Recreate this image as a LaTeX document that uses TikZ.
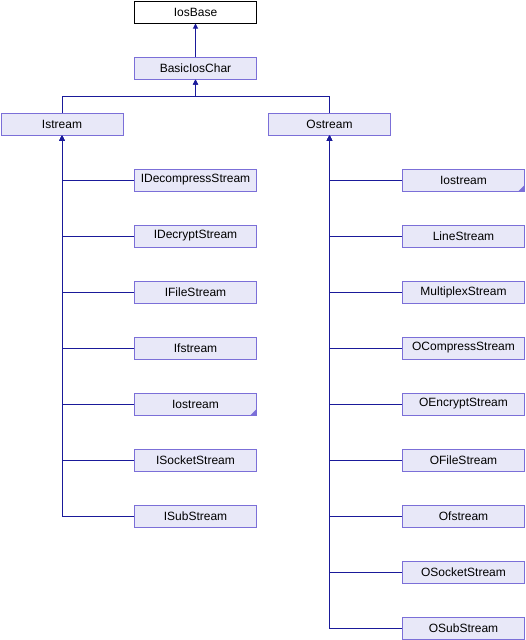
\documentclass[tikz,border=0pt]{standalone}
\usepackage{fontspec}
\setmainfont{Liberation Sans}
\usetikzlibrary{arrows.meta}
\definecolor{edgeblue}{HTML}{1A1A9A}
\definecolor{boxfill}{HTML}{E8E8F8}
\definecolor{boxline}{HTML}{7B6FD8}
\begin{document}
\begin{tikzpicture}[x=1pt,y=1pt,
  cls/.style={draw=boxline, fill=boxfill, line width=1pt, minimum width=122pt,
    minimum height=22pt, inner sep=0pt, font=\fontsize{12}{14}\selectfont},
  root/.style={cls, draw=black, fill=white},
  folded/.style={cls, path picture={
    \fill[boxline] (path picture bounding box.south east) -- ++(-6,0) -- ++(6,6) -- cycle;}},
  inherit/.style={draw=edgeblue, line width=1pt, -{Triangle[length=5pt,width=5pt]}}]
\useasboundingbox (0,0) rectangle (526,-640);

% base classes
\node[root] (iosbase) at (195.5,-12) {IosBase};
\node[cls] (basic) at (195.5,-68) {BasicIosChar};
\node[cls] (istream) at (62,-124) {Istream};
\node[cls] (ostream) at (329.5,-124) {Ostream};
\coordinate (split) at (195.5,-96);

\draw[inherit] (basic.north) -- (iosbase.south);
\draw[inherit] (istream.north) |- (split) -- (basic.south);
\draw[inherit] (ostream.north) |- (split) -- (basic.south);

% input streams
\foreach \name/\txt/\k/\sty in {idec/IDecompressStream/0/cls, idecr/IDecryptStream/1/cls,
    ifile/IFileStream/2/cls, ifs/Ifstream/3/cls, iosl/Iostream/4/folded,
    isock/ISocketStream/5/cls, isub/ISubStream/6/cls} {
  \node[\sty] (\name) at (195.5,-180-56*\k) {\txt};
  \draw[inherit] (\name.west) -| (istream.south);
}

% output streams
\foreach \name/\txt/\k/\sty in {iosr/Iostream/0/folded, line/LineStream/1/cls,
    mux/MultiplexStream/2/cls, ocomp/OCompressStream/3/cls, oenc/OEncryptStream/4/cls,
    ofile/OFileStream/5/cls, ofs/Ofstream/6/cls, osock/OSocketStream/7/cls,
    osub/OSubStream/8/cls} {
  \node[\sty] (\name) at (463.5,-180-56*\k) {\txt};
  \draw[inherit] (\name.west) -| (ostream.south);
}
\end{tikzpicture}
\end{document}
